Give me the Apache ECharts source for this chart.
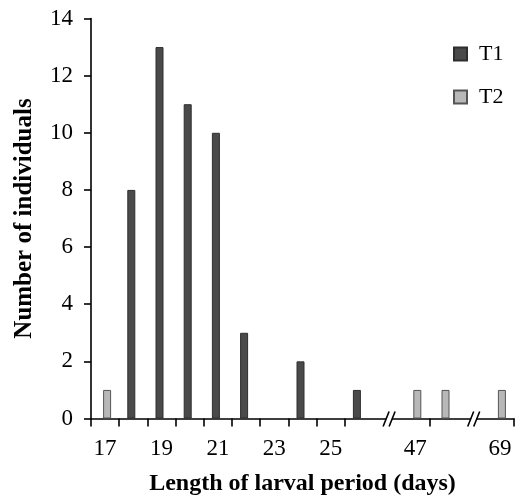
<!DOCTYPE html>
<html>
<head>
<meta charset="utf-8">
<script src="https://cdn.jsdelivr.net/npm/echarts@6/dist/echarts.min.js"></script>
<style>html,body{margin:0;padding:0;background:#fff;}#c{width:516px;height:497px;}</style>
</head>
<body>
<div id="c"></div>
<script>
// Categories (days); 'b1' and 'b2' are axis-break slots
const categories = ['17','18','19','20','21','22','23','24','25','26','b1','47','48','b2','69'];
const shownLabels = ['17','19','21','23','25','47','69'];
const tickIndices = [0,1,2,3,4,5,6,7,8,9,12];
const T1 = [0, 8, 13, 11, 10, 3, 0, 2, 0, 1, null, 0, 0, null, 0];
const T2 = [1, 0, 0, 0, 0, 0, 0, 0, 0, 0, null, 1, 1, null, 1];
const yTicks = [0, 2, 4, 6, 8, 10, 12, 14];

const FONT = "'Liberation Serif','Times New Roman',serif";
const noZero = (arr) => arr.map(v => (v === 0 || v === null) ? '-' : v);
const chart = echarts.init(document.getElementById('c'), null, {renderer: 'canvas'});
const option = {
  animation: false,
  backgroundColor: '#fff',
  grid: {left: 91, right: 2, top: 18.5, bottom: 78.5, containLabel: false, outerBoundsMode: 'none'},
  legend: {
    orient: 'vertical', left: 448, top: 38,
    itemWidth: 13, itemHeight: 13, itemGap: 21, icon: 'rect',
    data: ['T1', 'T2'],
    textStyle: {fontFamily: FONT, fontSize: 22, color: '#000', padding: [0, 0, 0, 7]}
  },
  xAxis: {
    type: 'category', data: categories, boundaryGap: true,
    axisLine: {lineStyle: {color: '#000', width: 1.6}},
    axisTick: {show: true, length: 8, lineStyle: {color: '#000', width: 1.6},
      interval: (i) => tickIndices.includes(i)},
    axisLabel: {fontFamily: FONT, fontSize: 23, color: '#000', margin: 19,
      interval: (i, v) => shownLabels.includes(v)},
    name: 'Length of larval period (days)', nameLocation: 'middle', nameGap: 53,
    nameTextStyle: {fontFamily: FONT, fontSize: 24, fontWeight: 'bold', color: '#000'}
  },
  yAxis: {
    type: 'value', min: yTicks[0], max: yTicks[yTicks.length - 1], interval: 2,
    splitLine: {show: false},
    axisLine: {show: true, lineStyle: {color: '#000', width: 1.6}},
    axisTick: {show: true, length: 7, lineStyle: {color: '#000', width: 1.6}},
    axisLabel: {fontFamily: FONT, fontSize: 23, color: '#000', margin: 18},
    name: 'Number of individuals', nameLocation: 'middle', nameGap: 54, nameRotate: 90,
    nameTextStyle: {fontFamily: FONT, fontSize: 25, fontWeight: 'bold', color: '#000'}
  },
  series: [
    {name: 'T1', type: 'bar', data: noZero(T1), barWidth: 8, barGap: '-50%',
      itemStyle: {color: '#4a4a4a', borderColor: '#2e2e2e', borderWidth: 1}},
    {name: 'T2', type: 'bar', data: noZero(T2), barWidth: 8, barGap: '-50%',
      itemStyle: {color: '#b8b8b8', borderColor: '#555', borderWidth: 1}}
  ]
};
chart.setOption(option);

// Axis break marks, positioned through the axis scales
const py = chart.convertToPixel({yAxisIndex: 0}, 0);
const g = [];
['b1', 'b2'].forEach(function (c) {
  const px = chart.convertToPixel({xAxisIndex: 0}, c) + 2;
  g.push({type: 'polygon', z: 100, shape: {points: [[px - 6, py + 8], [px, py + 8], [px + 6, py - 7], [px, py - 7]]},
    style: {fill: '#fff', stroke: null}});
  g.push({type: 'line', z: 101, shape: {x1: px - 6, y1: py + 8, x2: px, y2: py - 7}, style: {stroke: '#000', lineWidth: 1.6}});
  g.push({type: 'line', z: 101, shape: {x1: px, y1: py + 8, x2: px + 6, y2: py - 7}, style: {stroke: '#000', lineWidth: 1.6}});
});
chart.setOption({graphic: g});
</script>
</body>
</html>
